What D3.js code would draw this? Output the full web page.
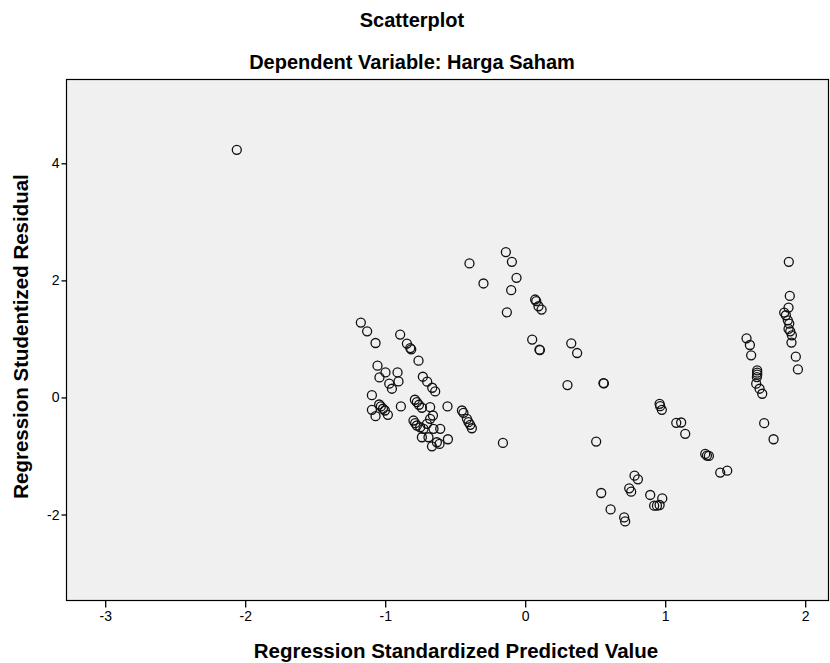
<!DOCTYPE html>
<html>
<head>
<meta charset="utf-8">
<script src="https://cdn.jsdelivr.net/npm/d3@7"></script>
<style>
  body { margin: 0; background: #fff; }
  text { font-family: "Liberation Sans", Arial, sans-serif; }
</style>
</head>
<body>
<svg id="chart" width="830" height="663"></svg>
<script>
// regression standardized predicted value
var predicted = [
  -2.06,
  -1.174, -1.129, -1.069, -0.893, -0.845, -0.821, -0.814, -0.762, -1.055, -0.998,
  -1.041, -0.912, -0.905, -0.971, -0.952, -0.731, -0.700, -0.664, -0.643, -1.095,
  -1.043, -1.031, -1.016, -1.002, -0.981, -1.095, -1.069, -0.888, -0.788, -0.774,
  -0.759, -0.738, -0.679, -0.798, -0.786, -0.774, -0.750, -0.726, -0.702, -0.679,
  -0.659, -0.655, -0.607, -0.738, -0.691, -0.666, -0.631, -0.612, -0.552, -0.555,
  -0.452, -0.441, -0.416, -0.405, -0.393, -0.381, -0.159,
  -0.398, -0.138, -0.095, -0.062, -0.100, -0.298, -0.131, 0.071, 0.079, 0.095,
  0.117, 0.050, 0.102, 0.105, 0.329, 0.371, 0.302, 0.559, 0.562,
  0.507, 0.960, 0.964, 0.976, 1.079, 1.114, 1.143, 1.286, 1.298, 1.312,
  1.393, 1.443, 0.781, 0.805, 0.743, 0.757, 0.543, 0.610, 0.707, 0.714,
  0.893, 0.979, 0.921, 0.941, 0.960,
  1.883, 1.890, 1.881, 1.850, 1.862, 1.876, 1.886, 1.881, 1.893, 1.905,
  1.902, 1.933, 1.948, 1.581, 1.605, 1.614, 1.657, 1.657, 1.657, 1.655,
  1.650, 1.674, 1.693, 1.707, 1.774
];
// regression studentized residual
var residual = [
  4.23,
  1.279, 1.130, 0.930, 1.074, 0.920, 0.844, 0.822, 0.628, 0.543, 0.428,
  0.342, 0.428, 0.274, 0.235, 0.149, 0.354, 0.269, 0.166, 0.103, 0.039,
  -0.120, -0.154, -0.193, -0.223, -0.296, -0.211, -0.320, -0.154, -0.039, -0.080,
  -0.125, -0.176, -0.166, -0.394, -0.440, -0.479, -0.509, -0.536, -0.450, -0.365,
  -0.308, -0.536, -0.536, -0.680, -0.680, -0.834, -0.765, -0.793, -0.714, -0.154,
  -0.223, -0.262, -0.365, -0.423, -0.467, -0.526, -0.776,
  2.289, 2.483, 2.317, 2.043, 1.832, 1.947, 1.455, 1.673, 1.644, 1.558,
  1.502, 0.988, 0.817, 0.810, 0.925, 0.759, 0.211, 0.245, 0.240,
  -0.753, -0.108, -0.149, -0.211, -0.434, -0.428, -0.622, -0.964, -0.993, -0.998,
  -1.284, -1.250, -1.336, -1.399, -1.553, -1.610, -1.632, -1.913, -2.050, -2.118,
  -1.666, -1.724, -1.849, -1.849, -1.837,
  2.317, 1.735, 1.536, 1.450, 1.404, 1.318, 1.262, 1.170, 1.130, 1.062,
  0.937, 0.697, 0.479, 1.010, 0.896, 0.719, 0.462, 0.423, 0.389, 0.348,
  0.235, 0.149, 0.063, -0.440, -0.714
];
var xTicks = [-3, -2, -1, 0, 1, 2];
var yTicks = [-2, 0, 2, 4];

var svg = d3.select("#chart");
var margin = { top: 79, right: 1, bottom: 63, left: 66 };
var width = 830 - margin.left - margin.right;
var height = 663 - margin.top - margin.bottom;

var x = d3.scaleLinear().domain([-3.28, 2.17]).range([0, width]);
var y = d3.scaleLinear().domain([-3.46, 5.44]).range([height, 0]);

var points = predicted.map(function(d, i) { return { x: d, y: residual[i] }; });

var g = svg.append("g")
    .attr("transform", "translate(" + margin.left + "," + margin.top + ")");

g.append("rect")
    .attr("x", 0.5).attr("y", 0.5)
    .attr("width", width - 1).attr("height", height)
    .style("fill", "#f0f0f0")
    .style("stroke", "#000")
    .style("stroke-width", 1.2);

// plain hyphen for negatives, like the original
var fmt = function(d) { return String(d); };

g.append("g")
    .attr("class", "x axis")
    .attr("transform", "translate(0," + (height + 0.5) + ")")
    .call(d3.axisBottom(x).tickValues(xTicks).tickSize(7).tickPadding(4).tickFormat(fmt));

g.append("g")
    .attr("class", "y axis")
    .attr("transform", "translate(0.5,0)")
    .call(d3.axisLeft(y).tickValues(yTicks).tickSize(5).tickPadding(2).tickFormat(fmt));

svg.selectAll(".axis .domain").remove();
svg.selectAll(".axis line").style("stroke", "#000").style("stroke-width", 1.3);
svg.selectAll(".axis text").style("font-size", "14px").style("fill", "#000");

g.selectAll("circle.pt")
    .data(points)
    .enter().append("circle")
    .attr("class", "pt")
    .attr("cx", function(d) { return x(d.x); })
    .attr("cy", function(d) { return y(d.y); })
    .attr("r", 4.5)
    .style("fill", "none")
    .style("stroke", "#111")
    .style("stroke-width", 1.3);

svg.append("text")
    .attr("x", 412).attr("y", 27)
    .attr("text-anchor", "middle")
    .style("font-size", "20px").style("font-weight", "bold")
    .text("Scatterplot");

svg.append("text")
    .attr("x", 412).attr("y", 69)
    .attr("text-anchor", "middle")
    .style("font-size", "20px").style("font-weight", "bold")
    .text("Dependent Variable: Harga Saham");

svg.append("text")
    .attr("x", 456).attr("y", 658)
    .attr("text-anchor", "middle")
    .style("font-size", "20.5px").style("font-weight", "bold")
    .text("Regression Standardized Predicted Value");

svg.append("text")
    .attr("transform", "translate(28," + (margin.top + height / 2 - 3) + ") rotate(-90)")
    .attr("text-anchor", "middle")
    .style("font-size", "20.5px").style("font-weight", "bold")
    .text("Regression Studentized Residual");
</script>
</body>
</html>
